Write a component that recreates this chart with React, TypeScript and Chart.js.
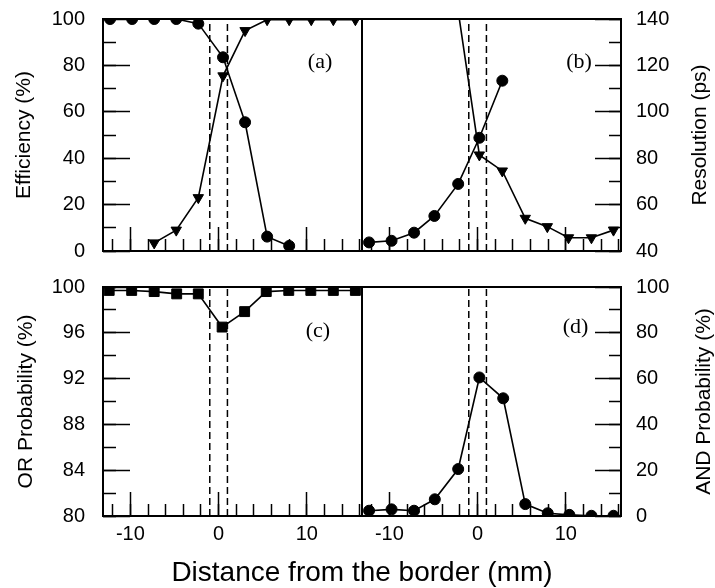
import React, { useEffect, useRef } from 'react';
import { Chart, registerables } from 'chart.js';

Chart.register(...registerables);

const SANS = "'Liberation Sans', Arial, Helvetica, sans-serif";
const SERIF = "'Liberation Serif', 'Times New Roman', serif";

// ---------- shared x axis ----------
const X_MIN = -13.1;
const X_MAX = 16.25;
const X_TICK_LABELS = [-10, 0, 10];
const X_MINOR_TICKS = [-12, -10, -8, -6, -4, -2, 0, 2, 4, 6, 8, 10, 12, 14, 16];
const BORDER_X = [-1, 1];
const X_TITLE = 'Distance from the border (mm)';

// ---------- (a) efficiency ----------
const EFF_TITLE = 'Efficiency (%)';
const EFF_MIN = 0;
const EFF_MAX = 100;
const EFF_TICK_LABELS = [0, 20, 40, 60, 80, 100];
const EFF_MINOR_TICKS = [0, 10, 20, 30, 40, 50, 60, 70, 80, 90, 100];
const A_CIRCLE_X = [-12.3, -9.8, -7.3, -4.8, -2.3, 0.5, 3.0, 5.5, 8.0];
const A_CIRCLE_Y = [100, 100, 100, 100, 98, 83.5, 55.5, 6.2, 2.2];
const A_TRI_X = [-7.3, -4.8, -2.3, 0.5, 3.0, 5.5, 8.0, 10.5, 13.0, 15.5];
const A_TRI_Y = [3.5, 9, 23, 75.5, 95, 99.7, 99.7, 99.7, 99.7, 99.7];

// ---------- (b) resolution ----------
const RES_TITLE = 'Resolution (ps)';
const RES_MIN = 40;
const RES_MAX = 140;
const RES_TICK_LABELS = [40, 60, 80, 100, 120, 140];
const RES_MINOR_TICKS = [40, 50, 60, 70, 80, 90, 100, 110, 120, 130, 140];
const B_CIRCLE_X = [-12.3, -9.75, -7.2, -4.9, -2.2, 0.2, 2.8];
const B_CIRCLE_Y = [43.7, 44.4, 47.9, 55.1, 68.9, 88.8, 113.4];
const B_TRI_X = [-2.3, 0.2, 2.8, 5.4, 7.9, 10.3, 12.9, 15.4];
const B_TRI_Y = [146, 81.4, 74.5, 54.1, 50.5, 45.7, 45.7, 49];

// ---------- (c) OR probability ----------
const OR_TITLE = 'OR Probability (%)';
const OR_MIN = 80;
const OR_MAX = 100;
const OR_TICK_LABELS = [80, 84, 88, 92, 96, 100];
const OR_MINOR_TICKS = [80, 82, 84, 86, 88, 90, 92, 94, 96, 98, 100];
const C_SQUARE_X = [-12.4, -9.85, -7.3, -4.75, -2.3, 0.4, 2.95, 5.4, 7.95, 10.45, 13.0, 15.5];
const C_SQUARE_Y = [99.7, 99.7, 99.6, 99.4, 99.4, 96.5, 97.85, 99.6, 99.7, 99.7, 99.7, 99.7];

// ---------- (d) AND probability ----------
const AND_TITLE = 'AND Probability (%)';
const AND_MIN = 0;
const AND_MAX = 100;
const AND_TICK_LABELS = [0, 20, 40, 60, 80, 100];
const AND_MINOR_TICKS = [0, 10, 20, 30, 40, 50, 60, 70, 80, 90, 100];
const D_CIRCLE_X = [-12.3, -9.75, -7.2, -4.85, -2.2, 0.2, 2.9, 5.4, 7.95, 10.4, 12.9, 15.4];
const D_CIRCLE_Y = [2.3, 2.9, 2.3, 7.3, 20.5, 60.5, 51.4, 5.2, 1.2, 0.5, 0.1, 0.1];

// panel tags [text, x value, y value]
const TAG_A: [string, number, number] = ['(a)', 11.5, 81.5];
const TAG_B: [string, number, number] = ['(b)', 11.5, 121.5];
const TAG_C: [string, number, number] = ['(c)', 11.25, 96.1];
const TAG_D: [string, number, number] = ['(d)', 11.1, 82.5];

// ---------- styles ----------
const CIRCLE = { shape: 'circle', r: 5.5, rot: 0 };
const TRI_DOWN = { shape: 'triangle', r: 6, rot: 180 };
const SQUARE = { shape: 'rect', r: 7, rot: 0 };

type AxisSpec = {
  axis: 'x' | 'y';
  position: 'left' | 'right' | 'bottom';
  min: number;
  max: number;
  ticks: number[];
  tickLen: number;
  weight: number;
  size: number;
  labels?: boolean;
  labelGap?: number;
  title?: string;
  titlePad?: number;
};

function makeAxis(s: AxisSpec) {
  return {
    type: 'linear',
    axis: s.axis,
    position: s.position,
    min: s.min,
    max: s.max,
    bounds: 'data',
    weight: s.weight,
    display: true,
    offset: false,
    afterBuildTicks: (scale: any) => {
      scale.ticks = s.ticks.map((v) => ({ value: v }));
    },
    afterFit: (scale: any) => {
      if (s.axis === 'x') scale.height = s.size;
      else scale.width = s.size;
      scale.paddingTop = 0;
      scale.paddingBottom = 0;
      scale.paddingLeft = 0;
      scale.paddingRight = 0;
    },
    grid: {
      display: true,
      drawOnChartArea: false,
      drawTicks: true,
      tickLength: -s.tickLen,
      tickWidth: 1.5,
      tickColor: '#000',
      color: '#000',
    },
    border: { display: false },
    ticks: {
      display: !!s.labels,
      padding: (s.labelGap ?? 0) + s.tickLen,
      color: '#000',
      font: { family: SANS, size: 20 },
      autoSkip: false,
      maxRotation: 0,
      minRotation: 0,
    },
    title: s.title
      ? {
          display: true,
          text: s.title,
          color: '#000',
          font: { family: SANS, size: 21 },
          padding: { top: s.titlePad ?? 0, bottom: 0 },
        }
      : { display: false },
  };
}

function series(xs: number[], ys: number[], st: any, yId: string) {
  return {
    data: xs.map((x, i) => ({ x, y: ys[i] })),
    xAxisID: 'x',
    yAxisID: yId,
    borderColor: '#000',
    backgroundColor: '#000',
    borderWidth: 1.6,
    pointStyle: st.shape,
    pointRadius: st.r,
    pointRotation: st.rot,
    pointBackgroundColor: '#000',
    pointBorderColor: '#000',
    pointBorderWidth: 1,
    tension: 0,
    clip: 0,
  };
}

function borderLines(yMin: number, yMax: number, yId: string) {
  return BORDER_X.map((x) => ({
    data: [
      { x, y: yMin },
      { x, y: yMax },
    ],
    xAxisID: 'x',
    yAxisID: yId,
    borderColor: '#000',
    borderWidth: 1.5,
    borderDash: [7, 4],
    pointRadius: 0,
    tension: 0,
    clip: 0,
  }));
}

const framePlugin = {
  id: 'frame',
  afterDatasetsDraw(chart: any) {
    const { ctx, chartArea: a } = chart;
    ctx.save();
    ctx.strokeStyle = '#000';
    ctx.lineWidth = 2;
    ctx.strokeRect(a.left, a.top, a.right - a.left, a.bottom - a.top);
    ctx.restore();
  },
};

function tagPlugin(tag: [string, number, number], yId: string) {
  return {
    id: 'panelTag',
    afterDatasetsDraw(chart: any) {
      const ctx = chart.ctx;
      const x = chart.scales.x.getPixelForValue(tag[1]);
      const y = chart.scales[yId].getPixelForValue(tag[2]);
      ctx.save();
      ctx.font = `22px ${SERIF}`;
      ctx.fillStyle = '#000';
      ctx.textAlign = 'center';
      ctx.textBaseline = 'middle';
      ctx.fillText(tag[0], x, y);
      ctx.restore();
    },
  };
}

function sideTitlePlugin(text: string, fromRight: number) {
  return {
    id: 'sideTitle',
    afterDraw(chart: any) {
      const { ctx, chartArea: a } = chart;
      ctx.save();
      ctx.translate(chart.width - fromRight, (a.top + a.bottom) / 2);
      ctx.rotate(-Math.PI / 2);
      ctx.font = `21px ${SANS}`;
      ctx.fillStyle = '#000';
      ctx.textAlign = 'center';
      ctx.textBaseline = 'middle';
      ctx.fillText(text, 0, 0);
      ctx.restore();
    },
  };
}

function bottomTitlePlugin(text: string, dx: number, below: number) {
  return {
    id: 'bottomTitle',
    afterDraw(chart: any) {
      const { ctx, chartArea: a } = chart;
      ctx.save();
      ctx.font = `28px ${SANS}`;
      ctx.fillStyle = '#000';
      ctx.textAlign = 'center';
      ctx.textBaseline = 'middle';
      ctx.fillText(text, a.right + dx, a.bottom + below);
      ctx.restore();
    },
  };
}

const baseOptions = (padding: any, scales: any) => ({
  responsive: false,
  animation: false,
  devicePixelRatio: 1,
  events: [],
  layout: { padding, autoPadding: false },
  plugins: {
    legend: { display: false },
    tooltip: { enabled: false },
    title: { display: false },
  },
  scales,
});

const xAxes = (labels: boolean) => ({
  x: makeAxis({
    axis: 'x',
    position: 'bottom',
    min: X_MIN,
    max: X_MAX,
    ticks: X_TICK_LABELS,
    tickLen: 24,
    weight: 1,
    size: labels ? 40 : 0,
    labels,
    labelGap: 6,
  }),
  xMinor: makeAxis({
    axis: 'x',
    position: 'bottom',
    min: X_MIN,
    max: X_MAX,
    ticks: X_MINOR_TICKS,
    tickLen: 12,
    weight: 0,
    size: 0,
  }),
});

const configA = () => ({
  type: 'line',
  data: {
    datasets: [
      ...borderLines(EFF_MIN, EFF_MAX, 'y'),
      series(A_CIRCLE_X, A_CIRCLE_Y, CIRCLE, 'y'),
      series(A_TRI_X, A_TRI_Y, TRI_DOWN, 'y'),
    ],
  },
  options: baseOptions(
    { left: 0, top: 19, right: 4, bottom: 29 },
    {
      ...xAxes(false),
      y: makeAxis({
        axis: 'y', position: 'left', min: EFF_MIN, max: EFF_MAX, ticks: EFF_TICK_LABELS,
        tickLen: 27, weight: 1, size: 103, labels: true, labelGap: 18, title: EFF_TITLE, titlePad: 12,
      }),
      yMinor: makeAxis({
        axis: 'y', position: 'left', min: EFF_MIN, max: EFF_MAX, ticks: EFF_MINOR_TICKS,
        tickLen: 13, weight: 0, size: 0,
      }),
    }
  ),
  plugins: [framePlugin, tagPlugin(TAG_A, 'y')],
});

const configB = () => ({
  type: 'line',
  data: {
    datasets: [
      ...borderLines(RES_MIN, RES_MAX, 'y'),
      series(B_CIRCLE_X, B_CIRCLE_Y, CIRCLE, 'y'),
      series(B_TRI_X, B_TRI_Y, TRI_DOWN, 'y'),
    ],
  },
  options: baseOptions(
    { left: 4, top: 19, right: 0, bottom: 29 },
    {
      ...xAxes(false),
      y: makeAxis({
        axis: 'y', position: 'right', min: RES_MIN, max: RES_MAX, ticks: RES_TICK_LABELS,
        tickLen: 26, weight: 1, size: 94, labels: true, labelGap: 15,
      }),
      yMinor: makeAxis({
        axis: 'y', position: 'right', min: RES_MIN, max: RES_MAX, ticks: RES_MINOR_TICKS,
        tickLen: 12, weight: 0, size: 0,
      }),
    }
  ),
  plugins: [framePlugin, tagPlugin(TAG_B, 'y'), sideTitlePlugin(RES_TITLE, 15)],
});

const configC = () => ({
  type: 'line',
  data: {
    datasets: [
      ...borderLines(OR_MIN, OR_MAX, 'y'),
      series(C_SQUARE_X, C_SQUARE_Y, SQUARE, 'y'),
    ],
  },
  options: baseOptions(
    { left: 0, top: 17, right: 353, bottom: 32 },
    {
      ...xAxes(true),
      y: makeAxis({
        axis: 'y', position: 'left', min: OR_MIN, max: OR_MAX, ticks: OR_TICK_LABELS,
        tickLen: 27, weight: 1, size: 94, labels: true, labelGap: 18, title: OR_TITLE, titlePad: 5,
      }),
      yMinor: makeAxis({
        axis: 'y', position: 'left', min: OR_MIN, max: OR_MAX, ticks: OR_MINOR_TICKS,
        tickLen: 13, weight: 0, size: 0,
      }),
    }
  ),
  plugins: [framePlugin, tagPlugin(TAG_C, 'y'), bottomTitlePlugin(X_TITLE, 0, 57)],
});

const configD = () => ({
  type: 'line',
  data: {
    datasets: [
      ...borderLines(AND_MIN, AND_MAX, 'y'),
      series(D_CIRCLE_X, D_CIRCLE_Y, CIRCLE, 'y'),
    ],
  },
  options: baseOptions(
    { left: 4, top: 17, right: 0, bottom: 32 },
    {
      ...xAxes(true),
      y: makeAxis({
        axis: 'y', position: 'right', min: AND_MIN, max: AND_MAX, ticks: AND_TICK_LABELS,
        tickLen: 26, weight: 1, size: 94, labels: true, labelGap: 15,
      }),
      yMinor: makeAxis({
        axis: 'y', position: 'right', min: AND_MIN, max: AND_MAX, ticks: AND_MINOR_TICKS,
        tickLen: 12, weight: 0, size: 0,
      }),
    }
  ),
  plugins: [framePlugin, tagPlugin(TAG_D, 'y'), sideTitlePlugin(AND_TITLE, 11)],
});

function Panel(props: { left: number; top: number; width: number; height: number; config: () => any }) {
  const ref = useRef<HTMLCanvasElement>(null);
  useEffect(() => {
    const chart = new Chart(ref.current as HTMLCanvasElement, props.config() as any);
    return () => chart.destroy();
  }, []);
  return (
    <canvas
      ref={ref}
      width={props.width}
      height={props.height}
      style={{ position: 'absolute', left: props.left, top: props.top, width: props.width, height: props.height }}
    />
  );
}

export default function App() {
  return (
    <div
      style={{
        position: 'absolute',
        left: 0,
        top: 0,
        width: 715,
        height: 588,
        background: '#fff',
        overflow: 'hidden',
      }}
    >
      <Panel left={0} top={0} width={366} height={280} config={configA} />
      <Panel left={358} top={0} width={357} height={280} config={configB} />
      <Panel left={9} top={270} width={706} height={318} config={configC} />
      <Panel left={358} top={270} width={357} height={318} config={configD} />
    </div>
  );
}
